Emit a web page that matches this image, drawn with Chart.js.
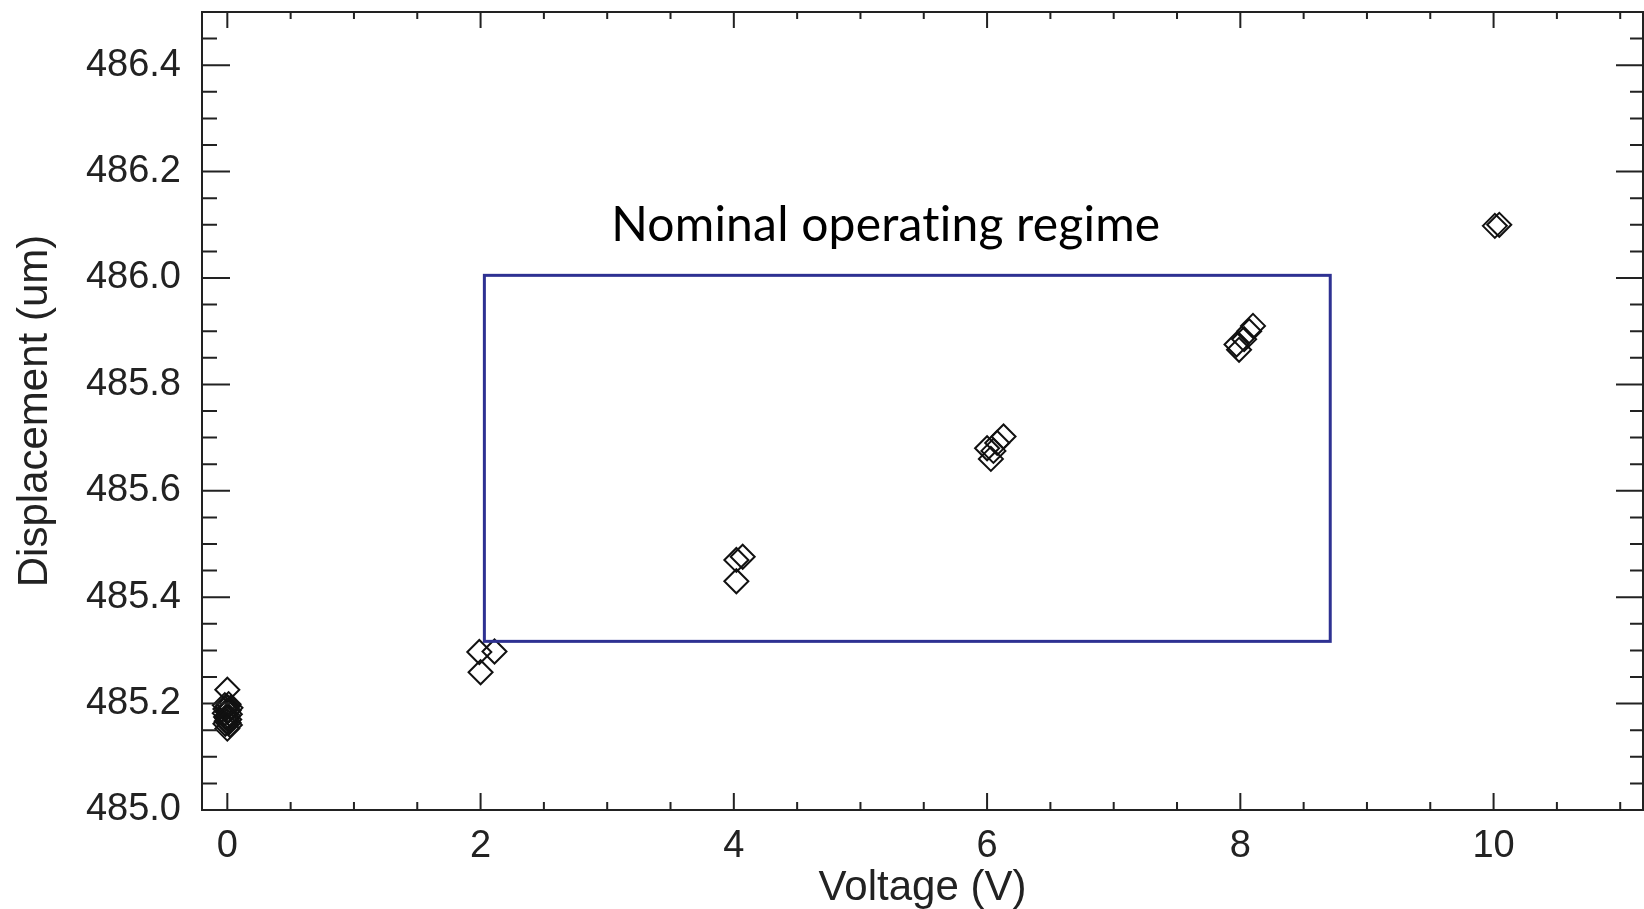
<!DOCTYPE html>
<html>
<head>
<meta charset="utf-8">
<script src="https://cdn.jsdelivr.net/npm/chart.js@4/dist/chart.umd.min.js"></script>
<style>
  html, body { margin: 0; padding: 0; background: #fff; }
  canvas { display: block; }
</style>
</head>
<body>
<canvas id="chart" width="1644" height="909"></canvas>
<script>
// measured points (voltage in V, displacement in um)
const voltage = [
  0.00, 0.01, -0.02, 0.00, 0.025, -0.015, 0.01, 0.00, -0.02, 0.02, 0.005, -0.01, 0.00, 0.015, -0.005, 0.01, -0.015, 0.02, 0.00,
  2.00, 1.99, 2.11,
  4.02, 4.02, 4.07,
  6.00, 6.03, 6.05, 6.08, 6.13,
  7.97, 7.99, 8.03, 8.07, 8.10,
  10.01, 10.045
];
const displacement = [
  485.226, 485.199, 485.197, 485.194, 485.192, 485.190, 485.187, 485.185, 485.182, 485.180, 485.177, 485.175, 485.172, 485.170, 485.167, 485.164, 485.162, 485.160, 485.153,
  485.259, 485.297, 485.298,
  485.430, 485.470, 485.476,
  485.680, 485.660, 485.675, 485.690, 485.702,
  485.875, 485.865, 485.885, 485.900, 485.910,
  486.098, 486.100
];

const xTicks = [0, 2, 4, 6, 8, 10];
const yTicks = [485.0, 485.2, 485.4, 485.6, 485.8, 486.0, 486.2, 486.4];
const xMinorStep = 0.5;
const yMinorStep = 0.05;

// "Nominal operating regime" rectangle, in data units
const regimeBoxX = [2.03, 8.71];
const regimeBoxY = [485.317, 486.005];
const regimeLabel = 'Nominal operating regime';
const regimeLabelAt = [5.2, 486.07];

const tickFont = { family: '"Liberation Sans", Arial, sans-serif', size: 38 };
const titleFont = { family: '"Liberation Sans", Arial, sans-serif', size: 42 };
const ink = '#222';

// IDL style frame: box all round, ticks pointing inwards
const idlFrame = {
  id: 'idlFrame',
  afterDatasetsDraw(chart) {
    const { ctx, chartArea: a, scales: { x, y } } = chart;
    ctx.save();
    ctx.strokeStyle = ink;
    ctx.lineWidth = 2;
    ctx.strokeRect(a.left, a.top, a.right - a.left, a.bottom - a.top);

    ctx.beginPath();
    for (let v = Math.ceil(x.min / xMinorStep) * xMinorStep; v <= x.max + 1e-9; v += xMinorStep) {
      const px = x.getPixelForValue(v);
      const major = xTicks.some(t => Math.abs(t - v) < 1e-6);
      ctx.moveTo(px, a.bottom); ctx.lineTo(px, a.bottom - (major ? 17 : 8));
      ctx.moveTo(px, a.top); ctx.lineTo(px, a.top + (major ? 16 : 7));
    }
    for (let v = y.min; v <= y.max + 1e-9; v += yMinorStep) {
      const py = y.getPixelForValue(v);
      const major = yTicks.some(t => Math.abs(t - v) < 1e-6);
      ctx.moveTo(a.left, py); ctx.lineTo(a.left + (major ? 28 : 15), py);
      ctx.moveTo(a.right, py); ctx.lineTo(a.right - (major ? 27 : 13), py);
    }
    ctx.stroke();

    // operating regime box and its label
    ctx.strokeStyle = '#2e3192';
    ctx.lineWidth = 3;
    const bx0 = x.getPixelForValue(regimeBoxX[0]), bx1 = x.getPixelForValue(regimeBoxX[1]);
    const by0 = y.getPixelForValue(regimeBoxY[1]), by1 = y.getPixelForValue(regimeBoxY[0]);
    ctx.strokeRect(bx0, by0, bx1 - bx0, by1 - by0);

    ctx.fillStyle = '#000';
    ctx.font = '48px Lato, "Open Sans", sans-serif';
    ctx.letterSpacing = '0.2px'; // keeps "ti" from turning into a ligature
    ctx.textAlign = 'center';
    ctx.textBaseline = 'alphabetic';
    ctx.fillText(regimeLabel, x.getPixelForValue(regimeLabelAt[0]), y.getPixelForValue(regimeLabelAt[1]));
    ctx.restore();
  }
};

const points = voltage.map((v, i) => ({ x: v, y: displacement[i] }));

new Chart(document.getElementById('chart'), {
  type: 'scatter',
  data: {
    datasets: [{
      data: points,
      pointStyle: 'rectRot',
      pointRadius: 12,
      pointHoverRadius: 12,
      borderColor: '#111',
      backgroundColor: 'rgba(0,0,0,0)',
      borderWidth: 2
    }]
  },
  options: {
    responsive: false,
    animation: false,
    events: [],
    layout: { autoPadding: false, padding: { top: 12, right: 1, left: 0, bottom: 0 } },
    plugins: { legend: { display: false }, tooltip: { enabled: false } },
    scales: {
      x: {
        type: 'linear',
        min: -0.2,
        max: 11.18,
        afterBuildTicks: s => { s.ticks = xTicks.map(v => ({ value: v })); },
        afterFit: s => { s.height = 99; s.paddingLeft = 0; s.paddingRight = 0; },
        grid: { display: false, drawTicks: false },
        border: { display: false },
        ticks: { font: tickFont, color: ink, padding: 14, maxRotation: 0, autoSkip: false, callback: v => String(v) },
        title: { display: true, text: 'Voltage (V)', font: titleFont, color: ink, padding: { top: 0, bottom: -5 } }
      },
      y: {
        type: 'linear',
        min: 485.0,
        max: 486.5,
        afterBuildTicks: s => { s.ticks = yTicks.map(v => ({ value: v })); },
        afterFit: s => { s.width = 202; s.paddingTop = 0; s.paddingBottom = 0; },
        grid: { display: false, drawTicks: false },
        border: { display: false },
        ticks: { font: tickFont, color: ink, padding: 21, autoSkip: false, callback: v => Number(v).toFixed(1) },
        title: { display: true, text: 'Displacement (um)', font: titleFont, color: ink, padding: { top: 10, bottom: 0 } }
      }
    }
  },
  plugins: [idlFrame]
});
</script>
</body>
</html>
